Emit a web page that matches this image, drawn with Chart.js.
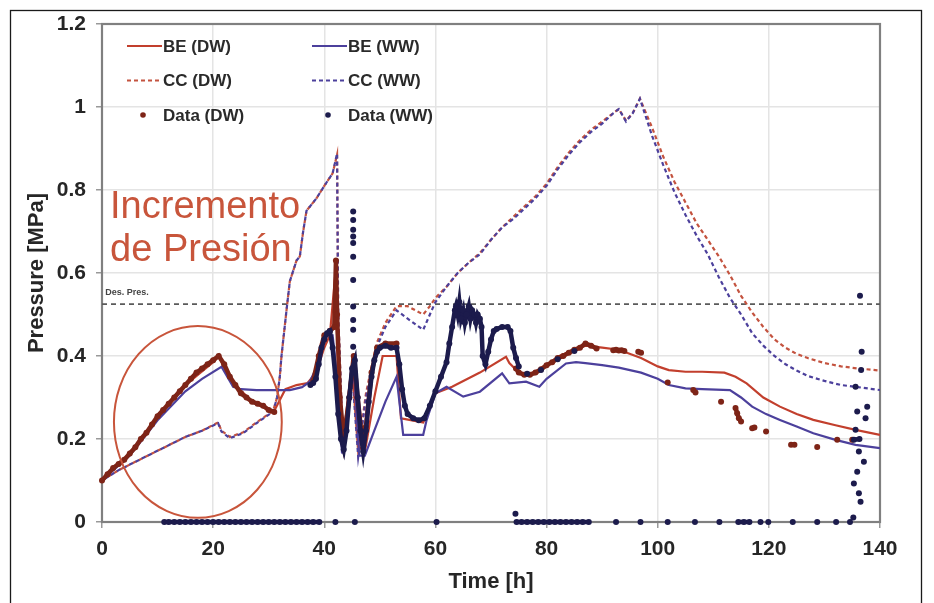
<!DOCTYPE html>
<html><head><meta charset="utf-8">
<script src="https://cdn.jsdelivr.net/npm/chart.js@4/dist/chart.umd.min.js"></script>
<style>html,body{margin:0;padding:0;background:#fff}#wrap{width:934px;height:603px}</style>
</head><body><div id="wrap"><canvas id="c" width="934" height="603"></canvas></div>
<script>
// ---------- DATA (time [h], pressure [MPa]) ----------
const xTicks = [0, 20, 40, 60, 80, 100, 120, 140];
const yTicks = [0, 0.2, 0.4, 0.6, 0.8, 1, 1.2];

const beDW = [[0,0.10],[5,0.165],[10,0.25],[15,0.33],[20,0.385],[21,0.40],[22,0.37],[24,0.33],[27,0.29],[30,0.27],[31,0.268],[33,0.32],[35,0.33],[37,0.335],[38.5,0.36],[40,0.42],[41,0.45],[42,0.6],[42.3,0.45],[43.4,0.2],[45,0.38],[46.3,0.18],[47.3,0.17],[49,0.3],[50.5,0.4],[53,0.4],[53.8,0.25],[57.8,0.24],[60,0.31],[63,0.326],[68,0.36],[72.7,0.398],[73.3,0.383],[75,0.36],[77,0.355],[80,0.375],[82.3,0.4],[85,0.415],[87,0.425],[90,0.42],[93,0.415],[97,0.395],[100,0.375],[102,0.366],[105,0.362],[108,0.362],[112,0.36],[114,0.35],[116,0.334],[119,0.3],[122,0.278],[125,0.26],[128,0.246],[132,0.233],[135.6,0.222],[140,0.21]];

const beWW = [[0,0.10],[5,0.16],[10,0.245],[15,0.315],[18,0.345],[21.5,0.374],[23.6,0.326],[25,0.32],[27.8,0.318],[30,0.318],[33.8,0.318],[36,0.325],[37.4,0.338],[38.5,0.37],[39.5,0.42],[40.5,0.45],[41.5,0.45],[42.3,0.35],[43.2,0.165],[44,0.25],[45,0.37],[45.5,0.33],[46.3,0.16],[47.3,0.16],[49,0.22],[51,0.29],[53,0.35],[54.2,0.21],[57.8,0.21],[58.4,0.245],[60,0.31],[62,0.326],[65,0.302],[68,0.314],[72,0.358],[73.3,0.334],[76.3,0.338],[78.7,0.326],[80,0.345],[83.5,0.382],[85.3,0.385],[87,0.383],[90,0.378],[93,0.372],[97,0.36],[100,0.345],[102,0.33],[105,0.322],[108,0.32],[113,0.318],[115,0.3],[117,0.278],[119.5,0.26],[122,0.246],[125,0.23],[128,0.214],[132,0.198],[135.6,0.186],[140,0.178]];

const ccDW = [[0,0.1],[3,0.125],[6,0.145],[9,0.165],[12,0.185],[15,0.205],[18,0.22],[20.9,0.24],[21.5,0.22],[23,0.205],[25.4,0.216],[27.8,0.24],[30.8,0.268],[31.5,0.3],[32,0.35],[32.3,0.4],[33.2,0.51],[33.8,0.58],[35,0.63],[35.6,0.64],[36.2,0.7],[36.8,0.75],[38.6,0.78],[40,0.81],[41.5,0.84],[42.3,0.885],[42.5,0.5],[43.4,0.18],[45,0.37],[46.1,0.17],[47.5,0.31],[49.4,0.43],[51,0.48],[53,0.52],[55,0.52],[57.8,0.5],[59,0.52],[60,0.54],[62,0.567],[64,0.6],[66,0.625],[68,0.648],[70,0.68],[72,0.71],[74,0.735],[76,0.76],[78,0.785],[80,0.815],[82,0.855],[84,0.89],[86,0.92],[88,0.945],[90,0.965],[92,0.985],[93,0.995],[94.3,0.967],[95.5,0.985],[96.8,1.02],[99,0.95],[101,0.88],[103,0.82],[105,0.77],[107,0.72],[109,0.68],[111,0.64],[113,0.595],[115,0.545],[117,0.505],[119,0.47],[121,0.44],[123,0.42],[125,0.405],[127,0.395],[130,0.383],[133,0.375],[136,0.37],[140,0.365]];

const ccWW = [[0,0.1],[3,0.125],[6,0.145],[9,0.165],[12,0.185],[15,0.205],[18,0.22],[20.9,0.238],[21.5,0.218],[23,0.202],[25.4,0.214],[27.8,0.238],[30.8,0.266],[31.5,0.3],[32,0.35],[32.3,0.4],[33.2,0.51],[33.8,0.58],[35,0.63],[35.6,0.64],[36.2,0.7],[36.8,0.75],[38.6,0.78],[40,0.81],[41.5,0.84],[42.3,0.888],[42.5,0.5],[43.4,0.166],[45,0.36],[46.1,0.157],[47.5,0.3],[49.4,0.42],[51,0.47],[53,0.51],[55,0.49],[57.8,0.463],[59,0.5],[60,0.53],[62,0.567],[64,0.6],[66,0.625],[68,0.645],[70,0.68],[72,0.71],[74,0.73],[76,0.755],[78,0.78],[80,0.81],[82,0.85],[84,0.885],[86,0.915],[88,0.94],[90,0.96],[92,0.985],[93,0.995],[94.3,0.965],[95.5,0.985],[96.8,1.02],[99,0.93],[101,0.86],[103,0.795],[105,0.74],[107,0.69],[109,0.645],[111,0.59],[113,0.54],[115,0.5],[117,0.455],[119,0.425],[121,0.4],[123,0.38],[125,0.365],[127,0.352],[130,0.34],[133,0.33],[136,0.325],[140,0.318]];

const desPres = [[0,0.525],[140,0.525]];

// measured data: runs of consecutive readings (each run drawn as a dotted band)
const dataDWRuns = [
  [[0,0.10],[1,0.115],[2,0.13],[3,0.14],[4,0.15],[5,0.165],[6,0.18],[7,0.2],[8,0.215],[9,0.235],[10,0.255],[11,0.27],[12,0.285],[13,0.3],[14,0.315],[15,0.33],[16,0.345],[17,0.36],[18,0.37],[19,0.38],[20,0.39],[21,0.40],[22,0.38],[23,0.35],[24,0.33],[25,0.31],[26,0.3],[27,0.29],[28,0.285],[29,0.28],[30,0.27],[31,0.265]],
  [[38,0.34],[39,0.4],[40,0.45],[41,0.46],[41.8,0.47],[42.1,0.63],[42.3,0.5],[42.8,0.3],[43.5,0.2],[44.5,0.3],[45.3,0.4],[46,0.3],[46.8,0.2],[47.5,0.23],[48.5,0.36],[49.5,0.42],[51,0.43],[53,0.43]],
  [[74.5,0.37],[75,0.36],[76,0.355],[77,0.355],[78,0.36],[79,0.368],[80,0.378],[81,0.385],[82,0.395],[83,0.4],[84,0.408],[85,0.415],[86,0.42],[87,0.43],[88,0.425],[89,0.418]],
  [[92,0.414],[92.5,0.415],[93,0.413],[93.5,0.414],[94,0.412]],
  [[96.5,0.41],[97,0.408]],
  [[101.8,0.336]],[[106.4,0.318],[106.8,0.312]],[[111.4,0.29]],
  [[114,0.275],[114.3,0.262],[114.6,0.25],[115,0.242]],
  [[117,0.226],[117.4,0.228]],[[119.5,0.218]],[[124,0.186],[124.6,0.186]],
  [[128.7,0.181]],[[132.3,0.198]],[[135,0.198]]
];

const dataWWRuns = [
  [[11.2,0],[12,0],[13,0],[14,0],[15,0],[16,0],[17,0],[18,0],[19,0],[20,0],[21,0],[22,0],[23,0],[24,0],[25,0],[26,0],[27,0],[28,0],[29,0],[30,0],[31,0],[32,0],[33,0],[34,0],[35,0],[36,0],[37,0],[38,0],[39.1,0]],
  [[42,0]],[[45.5,0]],[[60.2,0]],
  [[37.5,0.33],[38,0.335],[38.5,0.345],[39,0.38],[39.5,0.42],[40,0.44],[40.5,0.455],[41,0.46],[41.5,0.42],[42,0.35],[42.5,0.26],[43,0.2],[43.5,0.175],[44,0.22],[44.5,0.3],[45,0.37],[45.5,0.39],[46,0.3],[46.5,0.22],[47,0.17],[47.5,0.22],[48,0.29],[48.5,0.35],[49,0.39],[49.5,0.41],[50,0.42],[51,0.425],[52,0.42],[53,0.42],[53.5,0.38],[54,0.32],[54.5,0.28],[55,0.26],[56,0.25],[57,0.245],[58,0.25],[59,0.28],[60,0.315],[61,0.35],[62,0.385],[62.5,0.43],[63,0.47],[63.5,0.51],[63.7,0.52],[64,0.5],[64.3,0.53],[64.6,0.49],[65,0.51],[65.3,0.48],[65.6,0.5],[66,0.52],[66.3,0.49],[66.6,0.51],[67,0.5],[67.3,0.48],[67.6,0.5],[68,0.49],[68.3,0.47],[68.5,0.4],[69,0.38],[69.5,0.41],[70,0.44],[70.5,0.46],[71,0.465],[72,0.47],[73,0.47],[73.5,0.46],[74,0.42],[74.5,0.395],[75,0.375]],
  [[45.2,0.748]],[[45.2,0.728]],[[45.2,0.704]],[[45.2,0.688]],[[45.2,0.672]],[[45.2,0.639]],[[45.2,0.583]],[[45.2,0.519]],[[45.2,0.487]],[[45.2,0.463]],[[45.2,0.422]],
  [[76.5,0.357]],[[79,0.366]],[[82,0.392]],[[85,0.412]],
  [[74.4,0.02]],
  [[74.6,0],[75.5,0],[76.5,0],[77.5,0],[78.5,0],[79.5,0],[80.5,0],[81.5,0],[82.5,0],[83.5,0],[84.5,0],[85.5,0],[86.5,0],[87.6,0]],
  [[92.5,0]],[[96.9,0]],[[101.8,0]],[[106.7,0]],[[111.1,0]],
  [[114.5,0],[115.5,0],[116.5,0]],[[118.5,0]],[[119.9,0]],[[124.3,0]],[[128.7,0]],[[132.1,0]],[[134.6,0]],
  [[136.4,0.545]],[[136.7,0.41]],[[136.6,0.366]],[[135.6,0.326]],[[137.7,0.278]],[[135.9,0.266]],[[137.4,0.25]],[[135.6,0.222]],[[135.3,0.198],[136.3,0.2]],[[136.2,0.17]],[[137.1,0.145]],[[135.9,0.121]],[[135.3,0.093]],[[136.2,0.069]],[[136.5,0.049]],[[135.2,0.011]]
];

// ---------- STYLE ----------
const COL = {
  beDW: '#c23f2d', beWW: '#4c409c', ccDW: '#c4533f', ccWW: '#4c409c',
  dDW: '#7e2417', dWW: '#1c1b4c', des: '#5a5a5a', anno: '#c8553b', text: '#262626'
};
const FONT = "'Liberation Sans', Arial, sans-serif";
Chart.defaults.font.family = FONT;

const toXY = a => a.map(([x, y]) => ({x, y}));
const runsToXY = runs => {
  const out = [];
  runs.forEach(r => { r.forEach(([x, y]) => out.push({x, y})); out.push({x: r[r.length - 1][0], y: null}); });
  return out;
};

const datasets = [
  {label: 'Data (WW)', data: runsToXY(dataWWRuns), borderColor: COL.dWW, backgroundColor: COL.dWW, borderWidth: 4.5,
   pointRadius: 3, pointBorderWidth: 0, spanGaps: false, order: 0, clip: false, legend: {col: 1, row: 2, kind: 'dot'}},
  {label: 'Data (DW)', data: runsToXY(dataDWRuns), borderColor: COL.dDW, backgroundColor: COL.dDW, borderWidth: 4.5,
   pointRadius: 3, pointBorderWidth: 0, spanGaps: false, order: 1, clip: false, legend: {col: 0, row: 2, kind: 'dot'}},
  {label: 'BE (WW)', data: toXY(beWW), borderColor: COL.beWW, borderWidth: 2.2, pointRadius: 0, order: 2, legend: {col: 1, row: 0, kind: 'line'}},
  {label: 'BE (DW)', data: toXY(beDW), borderColor: COL.beDW, borderWidth: 2.2, pointRadius: 0, order: 3, legend: {col: 0, row: 0, kind: 'line'}},
  {label: 'CC (WW)', data: toXY(ccWW), borderColor: COL.ccWW, borderWidth: 2.2, borderDash: [4, 3], borderDashOffset: 3.5, pointRadius: 0, order: 4, legend: {col: 1, row: 1, kind: 'dash'}},
  {label: 'CC (DW)', data: toXY(ccDW), borderColor: COL.ccDW, borderWidth: 2.2, borderDash: [4, 3], pointRadius: 0, order: 5, legend: {col: 0, row: 1, kind: 'dash'}},
  {label: 'Des. Pres.', data: toXY(desPres), borderColor: COL.des, borderWidth: 1.6, borderDash: [5, 4], pointRadius: 0, order: 6}
];

// annotation geometry (data units)
const ANNO = {
  circle: {t: 17.25, p: 0.241, rt: 15.1, rp: 0.231},
  line1: {t: 1.45, p: 0.733, text: 'Incremento'},
  line2: {t: 1.45, p: 0.629, text: 'de Presión'},
  des: {t: 0.6, p: 0.548, text: 'Des. Pres.'}
};
const LEGEND = {x0: 127, dx: 185, y0: 46, dy: 34.5, lineLen: 35};

const deco = {
  id: 'deco',
  beforeDraw(chart) {
    const c = chart.ctx; c.save(); c.fillStyle = '#fff'; c.fillRect(0, 0, chart.width, chart.height); c.restore();
  },
  beforeDatasetsDraw(chart) {
    const {ctx: c, chartArea: a} = chart;
    c.save();
    c.strokeStyle = '#808080'; c.lineWidth = 2.2;
    c.strokeRect(a.left, a.top, a.right - a.left, a.bottom - a.top);
    c.restore();
  },
  afterDatasetsDraw(chart) {
    const {ctx: c, scales: {x, y}} = chart;
    c.save();
    // circle
    const C = ANNO.circle;
    const cx = x.getPixelForValue(C.t), cy = y.getPixelForValue(C.p);
    const rx = x.getPixelForValue(C.t + C.rt) - cx, ry = cy - y.getPixelForValue(C.p + C.rp);
    c.strokeStyle = COL.anno; c.lineWidth = 2;
    c.beginPath(); c.ellipse(cx, cy, rx, ry, 0, 0, Math.PI * 2); c.stroke();
    // big text
    c.fillStyle = COL.anno; c.font = '38px ' + FONT; c.textBaseline = 'alphabetic'; c.textAlign = 'left';
    [ANNO.line1, ANNO.line2].forEach(l => c.fillText(l.text, x.getPixelForValue(l.t), y.getPixelForValue(l.p)));
    // Des. Pres. label
    c.fillStyle = '#444'; c.font = 'bold 9px ' + FONT;
    c.fillText(ANNO.des.text, x.getPixelForValue(ANNO.des.t), y.getPixelForValue(ANNO.des.p));
    // legend
    c.font = 'bold 17px ' + FONT; c.textBaseline = 'middle';
    chart.data.datasets.forEach(ds => {
      if (!ds.legend) return;
      const lx = LEGEND.x0 + ds.legend.col * LEGEND.dx, ly = LEGEND.y0 + ds.legend.row * LEGEND.dy;
      if (ds.legend.kind === 'dot') {
        c.fillStyle = ds.backgroundColor; c.beginPath(); c.arc(lx + 16, ly, 2.8, 0, Math.PI * 2); c.fill();
      } else {
        c.strokeStyle = ds.borderColor; c.lineWidth = 2;
        c.setLineDash(ds.legend.kind === 'dash' ? [4, 3] : []);
        c.beginPath(); c.moveTo(lx, ly); c.lineTo(lx + LEGEND.lineLen, ly); c.stroke();
        c.setLineDash([]);
      }
      c.fillStyle = '#2a2a2a';
      c.fillText(ds.label, lx + LEGEND.lineLen + 1, ly + 1);
    });
    c.restore();
  },
  afterDraw(chart) {
    const c = chart.ctx; c.save();
    c.strokeStyle = '#1a1a1a'; c.lineWidth = 1.3;
    c.strokeRect(10.5, 10.5, 911, 640);
    c.restore();
  }
};

new Chart(document.getElementById('c'), {
  type: 'line',
  data: {datasets},
  options: {
    responsive: false, animation: false, devicePixelRatio: 1,
    layout: {padding: {left: 0, top: 24, right: 54, bottom: 0}},
    plugins: {legend: {display: false}, tooltip: {enabled: false}},
    scales: {
      x: {
        type: 'linear', min: xTicks[0], max: xTicks[xTicks.length - 1],
        afterBuildTicks: s => { s.ticks = xTicks.map(v => ({value: v})); },
        afterFit: s => { s.height = 81; },
        grid: {color: '#e4e4e4', lineWidth: 1.5, tickLength: 6, tickColor: '#999'},
        border: {display: false},
        ticks: {color: COL.text, font: {size: 21, weight: 'bold'}, padding: 9, maxRotation: 0},
        title: {display: true, text: 'Time [h]', color: COL.text, font: {size: 22, weight: 'bold'}, padding: {top: 0, bottom: 8}}
      },
      y: {
        type: 'linear', min: yTicks[0], max: yTicks[yTicks.length - 1],
        afterBuildTicks: s => { s.ticks = yTicks.map(v => ({value: v})); },
        afterFit: s => { s.width = 102; },
        grid: {color: '#e4e4e4', lineWidth: 1.5, tickLength: 6, tickColor: '#999'},
        border: {display: false},
        ticks: {color: COL.text, font: {size: 21, weight: 'bold'}, padding: 10, callback: v => String(Math.round(v * 10) / 10)},
        title: {display: true, text: 'Pressure [MPa]', color: COL.text, font: {size: 22, weight: 'bold'}, padding: {top: 24, bottom: 0}}
      }
    }
  },
  plugins: [deco]
});
</script>
</body></html>
